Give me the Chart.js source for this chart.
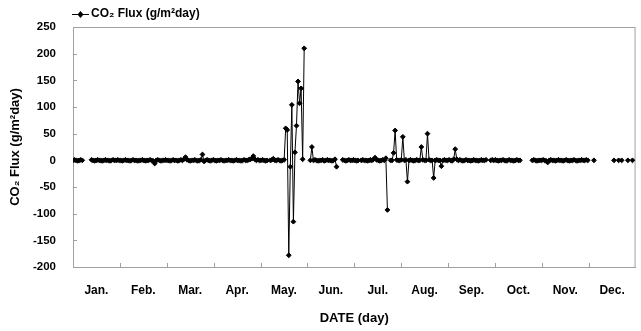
<!DOCTYPE html>
<html>
<head>
<meta charset="utf-8">
<script src="https://cdn.jsdelivr.net/npm/chart.js@4.4.1/dist/chart.umd.min.js"></script>
<style>
  html, body { margin: 0; padding: 0; background: #fff; }
  #wrap { width: 641px; height: 331px; }
</style>
</head>
<body>
<div id="wrap"><canvas id="fluxChart" width="641" height="331"></canvas></div>
<script>
// ── Data ─────────────────────────────────────────
// month labels on the date axis
const MONTHS = ['Jan.', 'Feb.', 'Mar.', 'Apr.', 'May.', 'Jun.', 'Jul.', 'Aug.', 'Sep.', 'Oct.', 'Nov.', 'Dec.'];
const DAYS_IN_YEAR = 365;

// y axis range (g/m2day)
const Y_MIN = -200;
const Y_MAX = 250;
const Y_STEP = 50;

// daily CO2 flux, one value per day of the month, null = no measurement
const jan = [0, 1, 0, -1, 0, 1, 0, null, null, null, null, null, 1, 0, -1, 0, 1, 0, 0, -1, 0, 1, 0, 0, -1, 0, 1, 0, 0, 1, 0];
const feb = [0, -1, 0, 1, 0, 0, -1, 0, 1, 0, 0, -1, 0, 0, 1, 0, -1, 0, 0, 1, 0, -1, -6, 0, 1, 0, -1, 0];
const mar = [0, 1, 0, 0, -1, 0, 1, 0, 0, -1, 0, 1, 0, 2, 6, 1, 0, -1, 0, 0, 1, 0, -1, 0, 1, 11, -2, 0, 1, 0, -1];
const apr = [0, 1, 0, -1, 0, 0, 1, 0, -1, 0, 0, 1, 0, 0, -1, 0, 1, 0, 0, -1, 0, 1, 0, 0, 1, 2, 3, 8, 2, 0];
const may = [1, 0, 0, 1, 0, -1, 0, null, 0, 1, 3, 0, 0, 1, 0, -1, 0, 1,
  60, 57, -178, -12, 104, -115, 15, 65, 148, 107, 135, 2, 210];
const jun = [null, null, null, 0, 25, 0, 1, 0, -1, 0, 0, 1, -1, 0, 1, 0, 0, -1, 0, 2, -12, null, null, null, 1, 0, -1, 0, 1, 0];
const jul = [0, 1, 0, -1, 0, null, 0, 1, 0, 0, -1, 0, 1, 0, 2, 5, 1, 0, -1, 0, 1, 0, 4, -93, null, 0, 0, 14, 56, 1, 0];
const aug = [0, 1, 44, 0, 1, -40, 0, 1, 0, -1, 0, 1, 0, 0, 25, 1, 0, 0, 50, 1, 0, 0, -33, 0, 1, 0, 0, -11, 0, 1, 0];
const sep = [0, 1, 0, -1, 2, 21, 2, 0, 1, 0, -1, 0, 1, 0, 0, -1, 0, 1, 0, 0, -1, 0, 1, 0, 0, 1, null, null, 0, 1];
const oct = [0, 1, 0, -1, 0, 0, 1, 0, -1, 0, 1, 0, 0, -1, 0, 1, 0, 0,
  null, null, null, null, null, null, null, 0, 1, 0, -1, 0, 0];
const nov = [0, 1, 0, -1, -4, 0, 1, 0, 0, -1, 0, 1, 0, 0, -1, 0, 1, 0, -1, 0, 0, 1, 0, -1, 0, 0, 1, 0, 0, 1];
const dec = [0, null, null, null, 0, null, null, null, null, null, null, null, null, null, null, null,
  null, 0, null, null, 0, null, 0, null, null, null, 0, null, null, 0, null];

const SERIES_LABEL = 'CO₂ Flux (g/m²day)';
const Y_TITLE = 'CO₂ Flux (g/m²day)';
const X_TITLE = 'DATE (day)';

// ── Styles ───────────────────────────────────────
const FONT = "'Liberation Sans', Arial, sans-serif";
const AXIS_GRAY = '#a0a0a0';
const INK = '#000';

const points = [jan, feb, mar, apr, may, jun, jul, aug, sep, oct, nov, dec]
  .flat()
  .map((v, i) => ({ x: i, y: v }));

const monthWidth = DAYS_IN_YEAR / MONTHS.length;

// plot frame plus the small inward tick marks of the Excel original
const frameTicks = {
  id: 'frameTicks',
  beforeDatasetsDraw(chart) {
    const { ctx, chartArea: a, scales: { x, y } } = chart;
    ctx.save();
    ctx.strokeStyle = AXIS_GRAY;
    ctx.lineWidth = 1;
    ctx.strokeRect(a.left + 0.5, a.top + 0.5, a.right - a.left - 1, a.bottom - a.top);
    ctx.beginPath();
    for (let i = 1; i < MONTHS.length; i++) {
      const px = Math.round(x.getPixelForValue(i * monthWidth)) + 0.5;
      ctx.moveTo(px, a.bottom);
      ctx.lineTo(px, a.bottom - 4);
    }
    for (let v = Y_MIN; v <= Y_MAX; v += Y_STEP) {
      const py = Math.round(y.getPixelForValue(v)) + 0.5;
      ctx.moveTo(a.left, py);
      ctx.lineTo(a.left + 4, py);
    }
    ctx.stroke();
    ctx.restore();
  },
};

// legend: line with diamond marker, top left above the plot
const lineLegend = {
  id: 'lineLegend',
  afterDraw(chart) {
    const { ctx } = chart;
    const cy = 14;
    ctx.save();
    ctx.strokeStyle = INK;
    ctx.fillStyle = INK;
    ctx.lineWidth = 1;
    ctx.beginPath();
    ctx.moveTo(72, cy + 0.5);
    ctx.lineTo(89, cy + 0.5);
    ctx.stroke();
    ctx.beginPath();
    ctx.moveTo(80.5, cy - 3);
    ctx.lineTo(83.5, cy + 0.5);
    ctx.lineTo(80.5, cy + 4);
    ctx.lineTo(77.5, cy + 0.5);
    ctx.closePath();
    ctx.fill();
    ctx.font = `bold 12px ${FONT}`;
    ctx.textBaseline = 'middle';
    ctx.fillText(SERIES_LABEL, 91, cy);
    ctx.restore();
  },
};

new Chart(document.getElementById('fluxChart').getContext('2d'), {
  type: 'line',
  data: {
    datasets: [{
      label: SERIES_LABEL,
      data: points,
      borderColor: INK,
      backgroundColor: INK,
      borderWidth: 1,
      pointStyle: 'rectRot',
      pointRadius: 2.4,
      pointBorderWidth: 1,
      tension: 0,
      spanGaps: false,
    }],
  },
  options: {
    responsive: false,
    devicePixelRatio: 1,
    animation: false,
    layout: { padding: { top: 27, right: 5, left: 4, bottom: 1 } },
    plugins: {
      legend: { display: false },
      tooltip: { enabled: false },
    },
    scales: {
      x: {
        type: 'linear',
        min: 0,
        max: DAYS_IN_YEAR,
        afterBuildTicks: (s) => {
          s.ticks = MONTHS.map((m, i) => ({ value: (i + 0.5) * monthWidth }));
        },
        afterFit: (s) => { s.height = 63; },
        ticks: {
          autoSkip: false,
          maxRotation: 0,
          padding: 16,
          color: INK,
          font: { family: FONT, size: 12, weight: 'bold' },
          callback: (v, i) => MONTHS[i],
        },
        grid: { display: false, drawTicks: false },
        border: { color: AXIS_GRAY },
        title: {
          display: true,
          text: X_TITLE,
          color: INK,
          font: { family: FONT, size: 13, weight: 'bold' },
          padding: { top: 4, bottom: 4 },
        },
      },
      y: {
        min: Y_MIN,
        max: Y_MAX,
        afterFit: (s) => { s.width = 69; },
        ticks: {
          stepSize: Y_STEP,
          padding: 17,
          color: INK,
          font: { family: FONT, size: 11.5, weight: 'bold' },
        },
        grid: { display: false, drawTicks: false },
        border: { color: AXIS_GRAY },
        title: {
          display: true,
          text: Y_TITLE,
          color: INK,
          font: { family: FONT, size: 13, weight: 'bold' },
          padding: { top: 4, bottom: 4 },
        },
      },
    },
  },
  plugins: [frameTicks, lineLegend],
});
</script>
</body>
</html>
